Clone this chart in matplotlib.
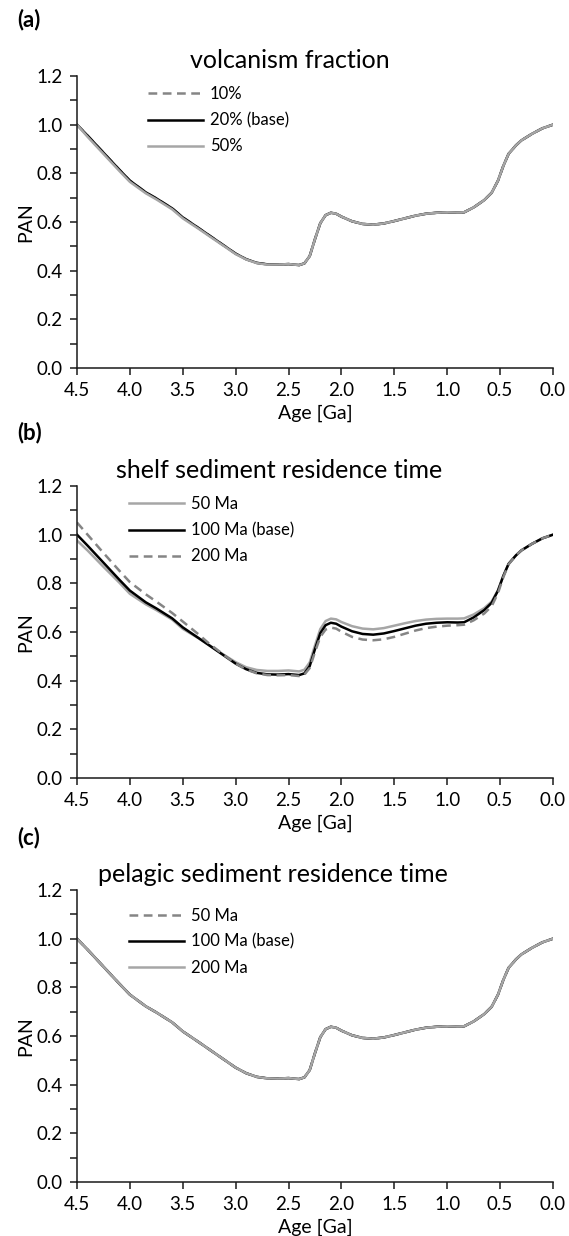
import matplotlib
matplotlib.use("Agg")
import matplotlib.pyplot as plt
from matplotlib.ticker import MultipleLocator

plt.rcParams['font.family'] = ['Lato', 'DejaVu Sans']

# Age grid [Ga] and PAN values
age = [4.5, 4.4, 4.25, 4.1, 4.0, 3.85, 3.75, 3.6, 3.5, 3.35, 3.25, 3.1, 3.0, 2.9, 2.8,
       2.7, 2.6, 2.5, 2.4, 2.35, 2.3, 2.25, 2.2, 2.15, 2.1, 2.05, 2.0, 1.9, 1.8, 1.7,
       1.6, 1.5, 1.4, 1.3, 1.2, 1.1, 1.0, 0.9, 0.84, 0.75, 0.65, 0.58, 0.52, 0.47,
       0.42, 0.35, 0.3, 0.2, 0.1, 0.0]

pan_base = [1.000, 0.955, 0.885, 0.815, 0.770, 0.722, 0.697, 0.656, 0.619, 0.575,
            0.545, 0.500, 0.470, 0.447, 0.432, 0.426, 0.425, 0.427, 0.423, 0.430,
            0.460, 0.530, 0.595, 0.628, 0.638, 0.634, 0.622, 0.603, 0.592, 0.589,
            0.594, 0.604, 0.615, 0.626, 0.634, 0.638, 0.640, 0.639, 0.640, 0.660,
            0.690, 0.720, 0.770, 0.830, 0.880, 0.915, 0.935, 0.962, 0.985, 1.000]

# (a) volcanism fraction
pan_volc10 = list(pan_base)
pan_volc50 = [1.000, 0.950, 0.880, 0.810, 0.765, 0.718, 0.693, 0.652, 0.615, 0.572,
              0.542, 0.498, 0.468, 0.446, 0.431, 0.425, 0.425, 0.427, 0.423, 0.430,
              0.460, 0.530, 0.595, 0.628, 0.638, 0.634, 0.622, 0.603, 0.592, 0.589,
              0.594, 0.604, 0.615, 0.626, 0.634, 0.638, 0.640, 0.639, 0.640, 0.660,
              0.690, 0.720, 0.770, 0.830, 0.880, 0.915, 0.935, 0.962, 0.985, 1.000]

# (b) shelf sediment residence time
pan_shelf50 = [0.976, 0.935, 0.868, 0.803, 0.757, 0.714, 0.690, 0.651, 0.613, 0.574,
               0.546, 0.503, 0.476, 0.455, 0.444, 0.440, 0.440, 0.442, 0.438, 0.445,
               0.475, 0.545, 0.612, 0.645, 0.655, 0.652, 0.641, 0.624, 0.614, 0.611,
               0.616, 0.626, 0.636, 0.645, 0.651, 0.654, 0.655, 0.655, 0.656, 0.672,
               0.698, 0.725, 0.772, 0.830, 0.880, 0.915, 0.935, 0.962, 0.985, 1.000]
pan_shelf200 = [1.050, 1.000, 0.925, 0.852, 0.805, 0.755, 0.725, 0.678, 0.643, 0.590,
                0.552, 0.502, 0.470, 0.446, 0.430, 0.423, 0.422, 0.423, 0.419, 0.425,
                0.452, 0.518, 0.580, 0.610, 0.618, 0.614, 0.601, 0.580, 0.569, 0.566,
                0.570, 0.580, 0.593, 0.606, 0.616, 0.622, 0.626, 0.628, 0.630, 0.648,
                0.676, 0.706, 0.760, 0.825, 0.878, 0.915, 0.935, 0.962, 0.985, 1.000]

# (c) pelagic sediment residence time
pan_pel50 = list(pan_base)
pan_pel200 = list(pan_base)

BLACK = '#000000'
LGRAY = '#a6a6a6'
DGRAY = '#858585'
DASH = (0, (3.5, 2.2))

panels = [
    dict(tag='(a)', title='volcanism fraction', lx=0.150, ly=0.965, top=76, tx=0.51,
         tag_y=20,
         lines=[(pan_volc10, '10%', DGRAY, DASH),
                (pan_base, '20% (base)', BLACK, '-'),
                (pan_volc50, '50%', LGRAY, '-')]),
    dict(tag='(b)', title='shelf sediment residence time', lx=0.110, ly=0.965, top=486,
         tx=0.49, tag_y=433,
         lines=[(pan_shelf50, '50 Ma', LGRAY, '-'),
                (pan_base, '100 Ma (base)', BLACK, '-'),
                (pan_shelf200, '200 Ma', DGRAY, DASH)]),
    dict(tag='(c)', title='pelagic sediment residence time', lx=0.110, ly=0.94, top=890,
         tx=0.48, tag_y=838,
         lines=[(pan_pel50, '50 Ma', DGRAY, DASH),
                (pan_base, '100 Ma (base)', BLACK, '-'),
                (pan_pel200, '200 Ma', LGRAY, '-')]),
]

fig = plt.figure(figsize=(5.69, 12.36), dpi=100)
W, H = 569, 1236
ax_left, ax_w, ax_h = 77, 476, 292

for p in panels:
    top = p['top']
    ax = fig.add_axes([ax_left / W, 1 - (top + ax_h) / H, ax_w / W, ax_h / H])
    for vals, lab, col, ls in p['lines']:
        ax.plot(age, vals, color=col, linestyle=ls, linewidth=1.8, label=lab)
    ax.set_xlim(4.5, 0.0)
    ax.set_ylim(0.0, 1.2)
    ax.xaxis.set_major_locator(MultipleLocator(0.5))
    ax.yaxis.set_major_locator(MultipleLocator(0.2))
    ax.yaxis.set_minor_locator(MultipleLocator(0.1))
    ax.xaxis.set_major_formatter(plt.FormatStrFormatter('%.1f'))
    ax.yaxis.set_major_formatter(plt.FormatStrFormatter('%.1f'))
    for s in ['top', 'right']:
        ax.spines[s].set_visible(False)
    for s in ['left', 'bottom']:
        ax.spines[s].set_color('#1a1a1a')
        ax.spines[s].set_linewidth(1.1)
    ax.tick_params(which='both', direction='out', length=5, width=1.1,
                   color='#1a1a1a', labelsize=13.5, pad=5)
    ax.set_xlabel('Age [Ga]', fontsize=14, labelpad=4)
    ax.set_ylabel('PAN', fontsize=14, labelpad=2)
    ax.legend(loc='upper left', bbox_to_anchor=(p['lx'], p['ly']), frameon=False,
              fontsize=12, handlelength=3.3, handletextpad=0.4,
              labelspacing=0.6, borderpad=0, borderaxespad=0)
    fig.text(p['tx'], 1 - (top - 16) / H, p['title'], fontsize=18,
             ha='center', va='center')
    fig.text(0.03, 1 - p['tag_y'] / H, p['tag'], fontsize=16,
             fontweight='bold', ha='left', va='center')

fig.savefig('out.png', dpi=100)
